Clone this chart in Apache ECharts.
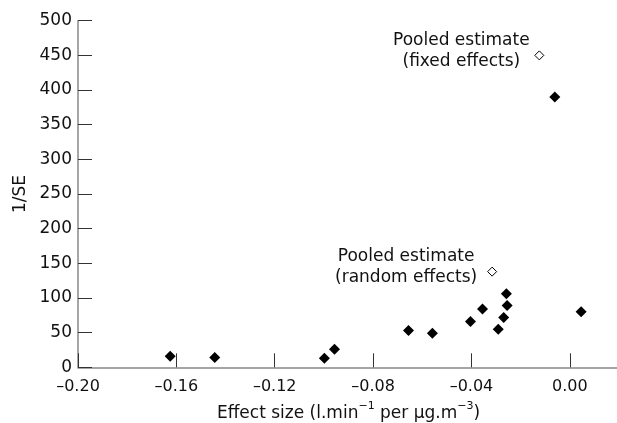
<!DOCTYPE html>
<html>
<head>
<meta charset="utf-8">
<script src="https://cdn.jsdelivr.net/npm/echarts@6/dist/echarts.min.js"></script>
<style>
html,body{margin:0;padding:0;background:#fff;}
#chart{width:617px;height:423px;}
</style>
</head>
<body>
<div id="chart"></div>
<script>
// Individual studies: effect size and 1/SE
var studyX = [-0.1625, -0.1444, -0.0998, -0.0957, -0.0656, -0.0559, -0.0404, -0.0355, -0.0291, -0.0269, -0.0258, -0.0255, -0.0061, 0.0046];
var studyY = [16, 14, 13, 26, 53, 49, 66, 84, 55, 72, 106, 89, 390, 80];
// Pooled estimates
var pooledNames = ['fixed effects', 'random effects'];
var pooledX = [-0.0124, -0.0316];
var pooledY = [450, 138];
// Axis ticks
var xTicks = [-0.20, -0.16, -0.12, -0.08, -0.04, 0.00];
var yTicks = [0, 50, 100, 150, 200, 250, 300, 350, 400, 450, 500];

var FONT = 'DejaVu Sans';
var TXT = '#111';
var labelOffsets = [[-78, -4], [-86, -5]];

var chart = echarts.init(document.getElementById('chart'), null, {renderer: 'canvas'});
var option = {
  animation: false,
  backgroundColor: '#ffffff',
  grid: {left: 78, right: -2, top: 20.7, bottom: 55.7, containLabel: false, outerBoundsMode: 'none'},
  xAxis: {
    type: 'value',
    min: -0.20, max: 0.02, interval: 0.04,
    name: '{a|Effect size (l.min}{s|\u22121}{a| per \u03bcg.m}{s|\u22123}{a|)}',
    nameLocation: 'middle', nameGap: 33,
    nameTextStyle: {
      rich: {
        a: {fontFamily: FONT, fontSize: 17, color: TXT, lineHeight: 26},
        s: {fontFamily: FONT, fontSize: 11, color: TXT, verticalAlign: 'top', lineHeight: 13}
      }
    },
    splitLine: {show: false},
    axisLine: {show: true, onZero: false, lineStyle: {color: '#888', width: 1.5}},
    axisTick: {show: true, inside: true, length: 14, lineStyle: {color: '#333', width: 1}},
    axisLabel: {
      showMaxLabel: false,
      fontFamily: FONT, fontSize: 16, color: TXT, margin: 12,
      formatter: function (v) {
        var best = null;
        for (var i = 0; i < xTicks.length; i++) if (Math.abs(xTicks[i] - v) < 1e-6) best = xTicks[i];
        if (best === null) return '';
        var s = Math.abs(best).toFixed(2);
        return best < -1e-9 ? '\u2013' + s : s;
      }
    }
  },
  yAxis: {
    type: 'value',
    min: 0, max: 500, interval: 50,
    name: '1/SE', nameLocation: 'middle', nameGap: 45,
    nameTextStyle: {fontFamily: FONT, fontSize: 17, color: TXT},
    splitLine: {show: false},
    axisLine: {show: true, onZero: false, lineStyle: {color: '#888', width: 1.5}},
    axisTick: {show: true, inside: true, length: 14, lineStyle: {color: '#333', width: 1}},
    axisLabel: {
      fontFamily: FONT, fontSize: 17, color: TXT, margin: 6,
      formatter: function (v) {
        for (var i = 0; i < yTicks.length; i++) if (Math.abs(yTicks[i] - v) < 1e-6) return String(yTicks[i]);
        return '';
      }
    }
  },
  series: [
    {
      type: 'scatter',
      symbol: 'diamond',
      symbolSize: 11,
      itemStyle: {color: '#000', opacity: 1},
      data: studyX.map(function (x, i) { return [x, studyY[i]]; }),
      z: 3
    },
    {
      type: 'scatter',
      symbol: 'diamond',
      symbolSize: 9,
      itemStyle: {color: '#fff', borderColor: '#000', borderWidth: 1, opacity: 1},
      data: pooledX.map(function (x, i) {
        return {
          value: [x, pooledY[i]],
          name: pooledNames[i],
          label: {
            show: true,
            position: 'inside',
            offset: labelOffsets[i],
            align: 'center',
            verticalAlign: 'middle',
            lineHeight: 21,
            fontFamily: FONT,
            fontSize: 17,
            color: TXT,
            opacity: 1,
            formatter: function (p) { return 'Pooled estimate\n(' + p.name + ')'; }
          }
        };
      }),
      z: 4
    }
  ]
};
chart.setOption(option);
</script>
</body>
</html>
